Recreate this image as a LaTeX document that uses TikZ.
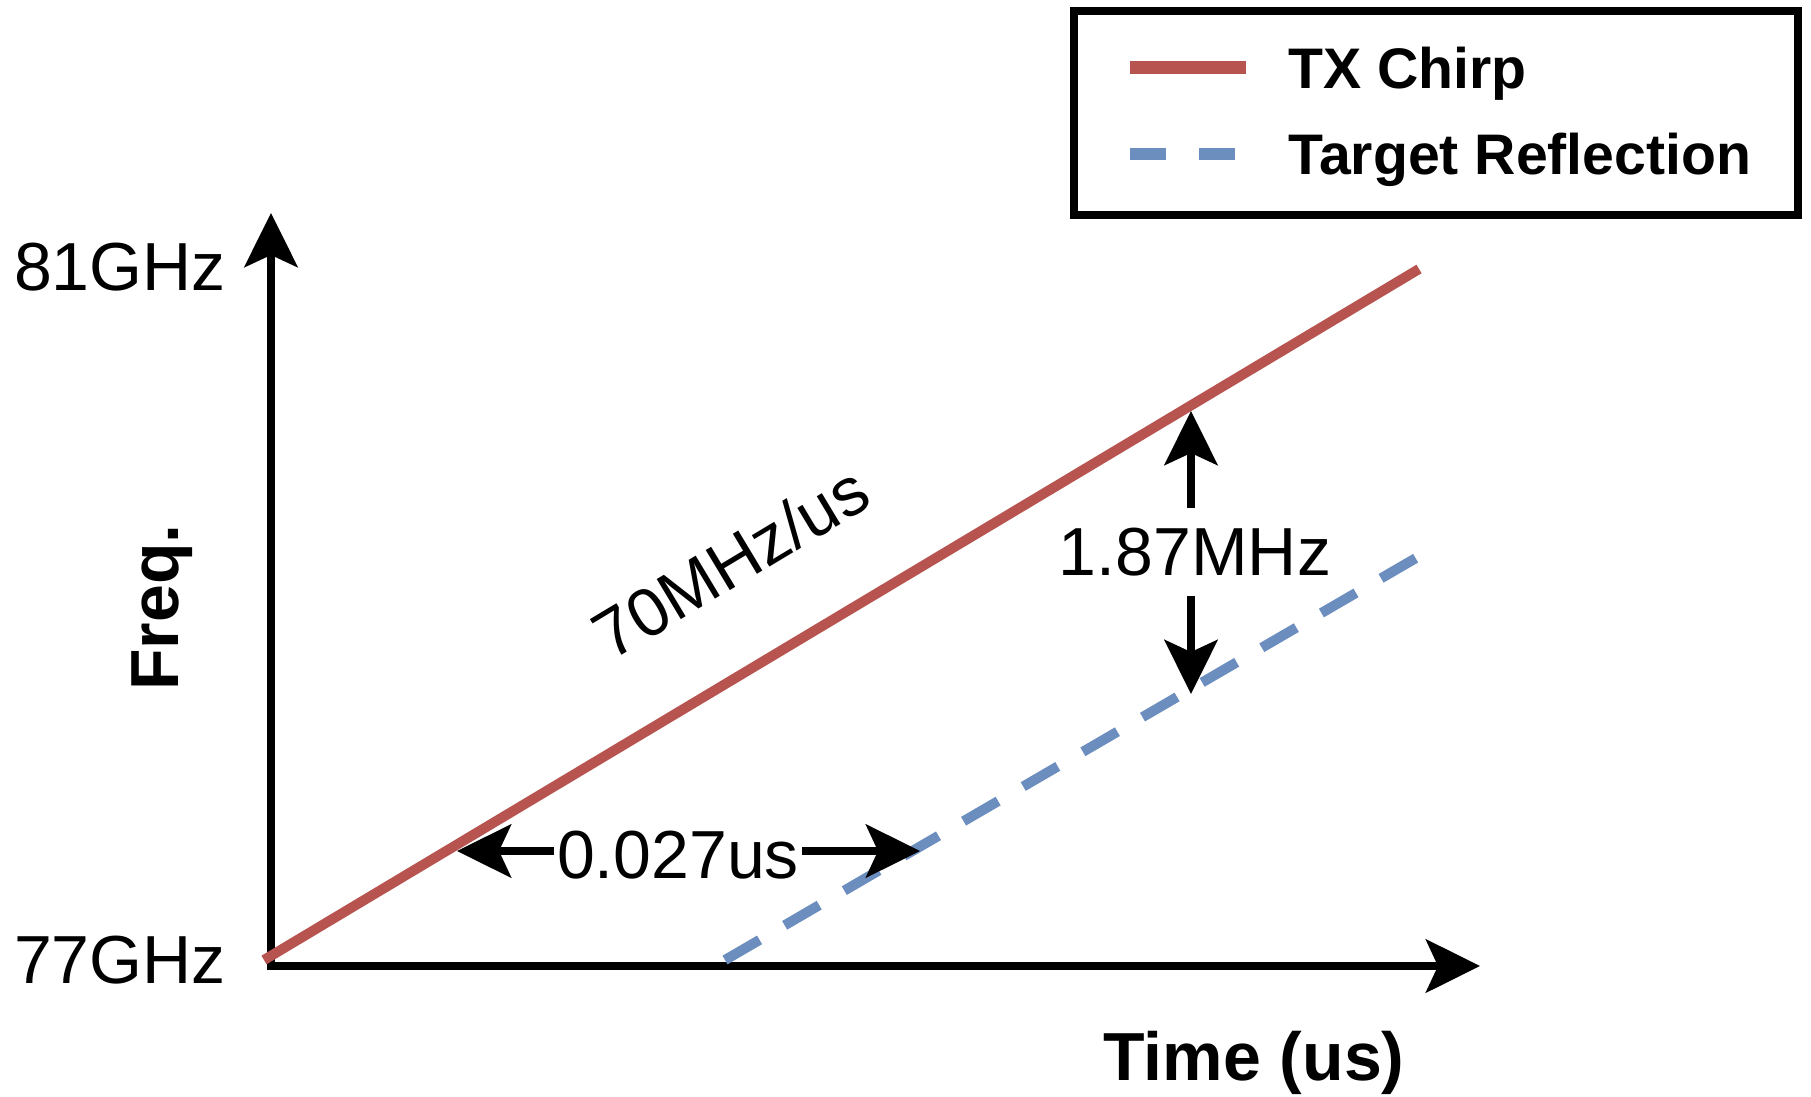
\documentclass[tikz,border=0pt]{standalone}
\usepackage{fontspec}
\setmainfont{Liberation Sans}
\usetikzlibrary{arrows.meta}
\definecolor{chirpred}{HTML}{B85450}
\definecolor{echoblue}{HTML}{6C8EBF}
\tikzset{
  >={Stealth[length=27pt,width=26.5pt,inset=6pt]},
  axis/.style={line width=4.2pt},
  dimarrow/.style={line width=4pt,->},
  txline/.style={chirpred,line width=5pt},
  rxline/.style={echoblue,line width=5pt,dash pattern=on 20pt off 14.5pt},
  lbl/.style={font=\fontsize{34}{40}\selectfont,inner sep=0pt},
  boldlbl/.style={inner sep=0pt,font=\fontsize{34}{40}\selectfont\bfseries},
  keylbl/.style={font=\fontsize{28.6}{34}\selectfont\bfseries,inner sep=0pt,anchor=base west}
}
\begin{document}
\begin{tikzpicture}[x=0.5pt,y=-0.5pt]
\useasboundingbox (0,0) rectangle (1811,1097);

% axes
\coordinate (O) at (271,966);
\coordinate (ytip) at (271,213);
\coordinate (xtip) at (1480,966);
\draw[axis,<->] (ytip) -- (O) -- (xtip);

\node[lbl] (f81) at (120,267.5) {81GHz};
\node[lbl] (f77) at (120,960.5) {77GHz};
\node[boldlbl,rotate=90,anchor=base] (freq) at (178,607.5) {Freq.};
\node[boldlbl,anchor=base] (time) at (1254,1080) {Time (us)};

% chirps
\coordinate (tx0) at (264,960);
\coordinate (tx1) at (1419,269);
\coordinate (rx0) at (725,960);
\coordinate (rx1) at (1416,558);
\draw[txline] (tx0) -- (tx1);
\draw[rxline] (rx0) -- (rx1);

\node[lbl,rotate=31,anchor=base] (slope) at (743,583) {70MHz/us};

% delay
\node[lbl,inner xsep=1.5pt] (delay) at (678,855) {0.027us};
\coordinate (d0) at (457,851);
\coordinate (d1) at (920,851);
\draw[dimarrow] (delay.west |- d0) -- (d0);
\draw[dimarrow] (delay.east |- d1) -- (d1);

% beat
\node[lbl,inner ysep=10pt] (beat) at (1195,552) {1.87MHz};
\coordinate (b0) at (1191,411);
\coordinate (b1) at (1191,694);
\draw[dimarrow] (beat.north -| b0) -- (b0);
\draw[dimarrow] (beat.south -| b1) -- (b1);

% legend
\node[draw,line width=4pt,minimum width=362pt,minimum height=101.5pt,inner sep=0pt] (key) at (1436,113) {};
\draw[chirpred,line width=6.5pt] (1130,67.5) -- (1246,67.5);
\draw[echoblue,line width=6pt,dash pattern=on 18pt off 16.5pt] (1130,154) -- (1235,154);
\node[keylbl] (ktx) at (1288,89) {TX Chirp};
\node[keylbl] (krx) at (1288,175) {Target Reflection};
\end{tikzpicture}
\end{document}
